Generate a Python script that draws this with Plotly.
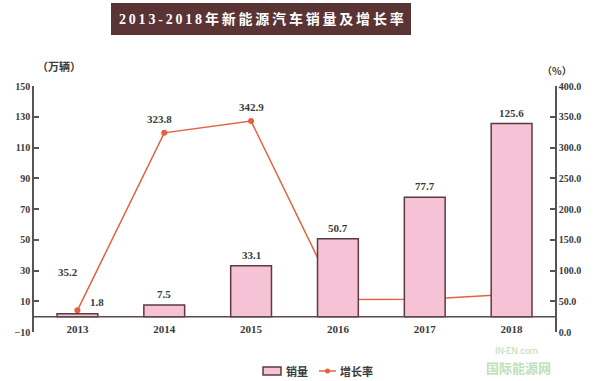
import plotly.graph_objects as go

years = ["2013", "2014", "2015", "2016", "2017", "2018"]
sales = [1.8, 7.5, 33.1, 50.7, 77.7, 125.6]          # 万辆
growth = [35.2, 323.8, 342.9, 53.0, 53.3, 61.7]      # %
growth_labels_shown = [True, True, True, False, False, False]
left_ticks = [-10, 10, 30, 50, 70, 90, 110, 130, 150]
right_ticks = [0, 50, 100, 150, 200, 250, 300, 350, 400]

W, H = 600, 381
L, R, T, B = 34, 555, 86, 332

def px(x):
    return (x - L) / (R - L)

def py(y):
    return (B - y) / (B - T)

FONT = "Liberation Serif, DejaVu Serif, Noto Sans CJK SC, serif"
CJK = "Noto Sans CJK SC, sans-serif"
LINE = "#e2623f"
TXT = "#3a3a3a"
BAR_FILL = "#f5c3d5"
BAR_EDGE = "#5c3a40"

fig = go.Figure()

# line on base axis (drawn below), bars on overlaying axis (drawn above)
fig.add_trace(go.Scatter(
    x=years, y=growth, yaxis="y", name="增长率",
    mode="lines+markers",
    line=dict(color=LINE, width=1.5),
    marker=dict(color=LINE, size=6),
))

fig.add_trace(go.Bar(
    x=years, y=sales, yaxis="y2", name="销量", width=0.47,
    marker=dict(color=BAR_FILL, line=dict(color=BAR_EDGE, width=1.5)),
))

ann = []
# category serial numbers are used as x so that numeric-looking names are not misread
for i, v in enumerate(sales):
    ann.append(dict(x=i, y=v, xref="x", yref="y2", text=f"{v}", showarrow=False,
                    xshift=20 if i == 0 else 0, yshift=12 if i == 0 else 11,
                    font=dict(family=FONT, size=11, color=TXT, weight="bold")))
for i, (g, s) in enumerate(zip(growth, growth_labels_shown)):
    if not s:
        continue
    xs = -9 if i == 0 else (-5 if i == 1 else 0)
    ys = 38 if i == 0 else 14
    ann.append(dict(x=i, y=g, xref="x", yref="y", text=f"{g}", showarrow=False,
                    xshift=xs, yshift=ys,
                    font=dict(family=FONT, size=11, color=TXT, weight="bold")))

ann.append(dict(x=px(35), y=py(66), xref="paper", yref="paper", text="（万辆）", showarrow=False,
                yanchor="middle",
                font=dict(family=CJK, size=11, color=TXT, weight="bold")))
ann.append(dict(x=px(574), y=py(71), xref="paper", yref="paper", text="（%）", showarrow=False,
                yanchor="middle",
                font=dict(family=CJK, size=10, color=TXT, weight="bold")))
ann.append(dict(x=px(261), y=py(19), xref="paper", yref="paper",
                text="\u2009".join(list("2013-2018年新能源汽车销量及增长率")),
                showarrow=False, yanchor="middle",
                font=dict(family="Liberation Serif, Noto Sans CJK SC, serif", size=14, color="white", weight="bold")))
# watermark
ann.append(dict(x=px(540), y=py(351), xref="paper", yref="paper", text="IN-EN.com", showarrow=False,
                yanchor="middle",
                font=dict(family="Roboto, sans-serif", size=9, color="#b9dcb4")))
ann.append(dict(x=px(553), y=py(367), xref="paper", yref="paper", text="国际能源网", showarrow=False,
                yanchor="middle",
                font=dict(family=CJK, size=13, color="#bfe0b8", weight="bold")))
# legend texts
ann.append(dict(x=px(284), y=py(371), xref="paper", yref="paper", text="销量", showarrow=False,
                xanchor="left", yanchor="middle",
                font=dict(family=CJK, size=11, color=TXT, weight="bold")))
ann.append(dict(x=px(338), y=py(371), xref="paper", yref="paper", text="增长率", showarrow=False,
                xanchor="left", yanchor="middle",
                font=dict(family=CJK, size=11, color=TXT, weight="bold")))

shapes = [
    dict(type="rect", xref="paper", yref="paper", x0=px(111), x1=px(411), y0=py(35), y1=py(3),
         fillcolor="#5a3334", line=dict(width=0), layer="below"),
    dict(type="line", xref="paper", yref="y2", x0=0, x1=1, y0=0, y1=0,
         line=dict(color="#5a4a4a", width=1.5)),
    # legend symbols
    dict(type="rect", xref="paper", yref="paper", x0=px(263), x1=px(281), y0=py(375), y1=py(367),
         fillcolor=BAR_FILL, line=dict(color=BAR_EDGE, width=1.5)),
    dict(type="line", xref="paper", yref="paper", x0=px(319), x1=px(336), y0=py(371), y1=py(371),
         line=dict(color=LINE, width=1.5)),
    dict(type="circle", xref="paper", yref="paper", x0=px(325), x1=px(330), y0=py(373.5), y1=py(368.5),
         fillcolor=LINE, line=dict(width=0)),
]

zero_pos = 10 / 160

axis_common = dict(
    showline=True, linecolor="#555", linewidth=1.5,
    ticks="inside", ticklen=5, tickcolor="#555", tickwidth=1.5,
    tickfont=dict(family=FONT, size=10, color=TXT, weight="bold"),
    showgrid=False, zeroline=False,
)

fig.update_layout(
    width=W, height=H,
    margin=dict(l=L, r=W - R, t=T, b=H - B, autoexpand=False),
    paper_bgcolor="white", plot_bgcolor="white",
    annotations=ann, shapes=shapes,
    showlegend=False,
    xaxis=dict(
        type="category", categoryorder="array", categoryarray=years,
        range=[-0.5, 5.5],
        showline=False, ticks="", anchor="free", position=zero_pos,
        tickfont=dict(family=FONT, size=11, color=TXT, weight="bold"),
        showgrid=False, zeroline=False, ticklabelstandoff=4,
    ),
    yaxis=dict(range=[0, 400], tickvals=right_ticks, tickformat=".1f", side="right", **axis_common),
    yaxis2=dict(range=[-10, 150], tickvals=left_ticks, overlaying="y", side="left", **axis_common),
    barmode="overlay",
)

fig.write_html("out.html", config={"displayModeBar": False},
               post_script="document.body.style.margin='0';")
